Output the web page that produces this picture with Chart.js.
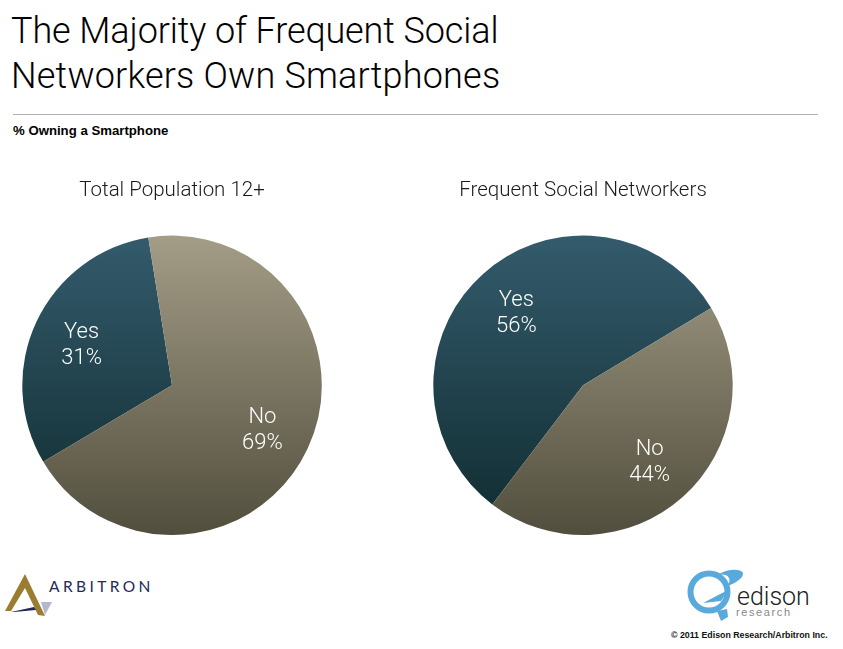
<!DOCTYPE html>
<html>
<head>
<meta charset="utf-8">
<script src="https://cdn.jsdelivr.net/npm/chart.js@4"></script>
<style>
    html, body { margin: 0; padding: 0; background: #fff; }
    body { width: 843px; height: 649px; position: relative; overflow: hidden; font-family: "Liberation Sans", Arial, sans-serif; color: #111; }
    h1 { position: absolute; left: 11px; top: 9px; margin: 0; color: #000; font-family: Roboto, "Liberation Sans", sans-serif; font-size: 36px; line-height: 45px; font-weight: 300; white-space: nowrap; }
    h1 .first { letter-spacing: -0.1px; }
    h1 .second { letter-spacing: 0.2px; }
    .rule { position: absolute; left: 13px; top: 114px; width: 805px; height: 1px; background: #b0b0b0; }
    .sub { position: absolute; left: 13px; top: 123px; font-size: 13.2px; font-weight: 700; color: #000; }
    .pie { position: absolute; top: 170px; width: 320px; height: 365px; }
    .logo { position: absolute; }
    .copy { position: absolute; left: 671px; top: 630px; font-size: 8.8px; font-weight: 700; color: #111; white-space: nowrap; }
</style>
</head>
<body>
<h1><span class="first">The Majority of Frequent Social</span><br><span class="second">Networkers Own Smartphones</span></h1>
<div class="rule"></div>
<div class="sub">% Owning a Smartphone</div>
<div class="pie" style="left:12px"><canvas id="pie-total"></canvas></div>
<div class="pie" style="left:423px"><canvas id="pie-social"></canvas></div>

<svg class="logo" style="left:0;top:565px" width="160" height="55" viewBox="0 0 160 55">
    <path d="M5 46 L25 9 L45 51 L38 50 L25 23 L11 46 Z" fill="#9b7d32"/>
    <path d="M11 47 L34 42 L36 45 L14 47 Z" fill="#23295a"/>
    <path d="M41 37 L52 37 L45 50 Z" fill="#b4b8cc"/>
    <text x="49" y="27" font-family="Lato, sans-serif" font-size="15.5" letter-spacing="3.4" fill="#23295a">ARBITRON</text>
</svg>

<svg class="logo" style="left:680px;top:565px" width="140" height="60" viewBox="0 0 140 60">
    <circle cx="29" cy="27" r="18.5" fill="none" stroke="#58a9dc" stroke-width="6"/>
    <path d="M37 10 C47 4 60 3 63 8 C64 13 55 18 48 21 C52 13 48 8 37 10 Z" fill="#58a9dc"/>
    <path d="M23 38 L48 25 L41 36 Z" fill="#58a9dc"/>
    <path d="M37 46 L47 44 L48 52 L41 56 Z" fill="#58a9dc"/>
    <text x="57" y="40" font-family="Roboto, sans-serif" font-weight="300" font-size="25" fill="#222">edison</text>
    <text x="56" y="51" font-family="Liberation Sans, sans-serif" font-size="11" letter-spacing="1.6" fill="#888">research</text>
</svg>
<div class="copy">© 2011 Edison Research/Arbitron Inc.</div>

<script>
const categories = ['Yes', 'No'];
const totalValues = [31, 69];
const socialValues = [56, 44];
const totalTitle = 'Total Population 12+';
const socialTitle = 'Frequent Social Networkers';

const yesColors = ['#345b6c', '#0f2b2f'];
const noColors = ['#a39d87', '#524e3d'];

function sliceFill(context) {
    const area = context.chart.chartArea;
    if (!area) return yesColors[0];
    const colors = context.dataIndex === 0 ? yesColors : noColors;
    const gradient = context.chart.ctx.createLinearGradient(0, area.top, 0, area.bottom);
    gradient.addColorStop(0, colors[0]);
    gradient.addColorStop(1, colors[1]);
    return gradient;
}

// writes "Yes / 31%" inside each slice, two thirds of the way out
const sliceLabels = {
    id: 'sliceLabels',
    afterDatasetsDraw(chart) {
        const ctx = chart.ctx;
        const values = chart.data.datasets[0].data;
        chart.getDatasetMeta(0).data.forEach(function(arc, i) {
            const mid = (arc.startAngle + arc.endAngle) / 2;
            const r = arc.outerRadius * 0.667;
            const x = arc.x + Math.cos(mid) * r;
            const y = arc.y + Math.sin(mid) * r;
            ctx.save();
            ctx.fillStyle = '#fff';
            ctx.font = '300 22px Roboto, "Liberation Sans", sans-serif';
            ctx.textAlign = 'center';
            ctx.textBaseline = 'middle';
            ctx.fillText(chart.data.labels[i], x, y - 10.5);
            ctx.fillText(values[i] + '%', x, y + 15.5);
            ctx.restore();
        });
    }
};

function makePie(id, values, title, rotation) {
    return new Chart(document.getElementById(id), {
        type: 'pie',
        data: {
            labels: categories,
            datasets: [{ data: values, backgroundColor: sliceFill, borderWidth: 0 }]
        },
        options: {
            responsive: true,
            maintainAspectRatio: false,
            animation: false,
            rotation: rotation,
            plugins: {
                legend: { display: false },
                tooltip: { enabled: false },
                title: {
                    display: true,
                    text: title,
                    color: '#1a1a1a',
                    font: { family: 'Roboto, "Liberation Sans", sans-serif', size: 20.5, weight: '300' },
                    padding: { top: 9, bottom: 32 }
                }
            }
        },
        plugins: [sliceLabels]
    });
}

makePie('pie-total', totalValues, totalTitle, 239.3);
makePie('pie-social', socialValues, socialTitle, 217.3);
</script>
</body>
</html>
